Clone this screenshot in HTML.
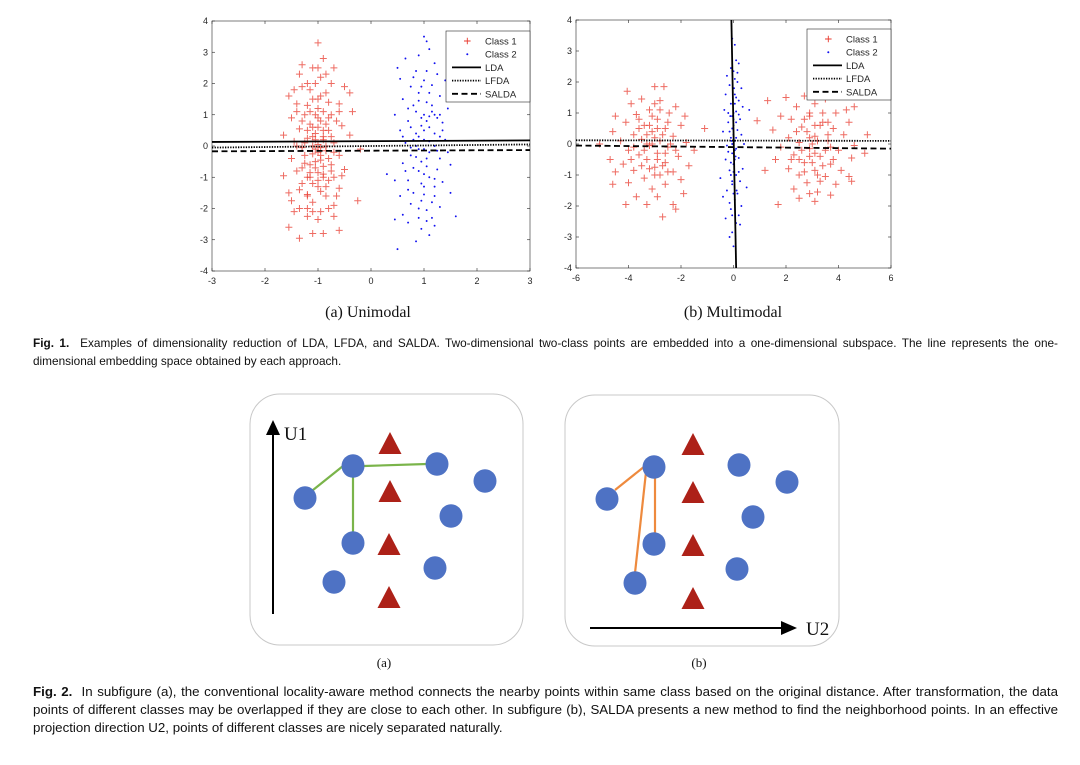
<!DOCTYPE html>
<html><head><meta charset="utf-8"><style>
body{margin:0;background:#fff;width:1080px;height:765px;overflow:hidden;position:relative;font-family:"Liberation Sans",sans-serif}
svg{position:absolute;left:0;top:0}
.cap{position:absolute;left:33px;width:1025px;color:#111;text-align:justify;text-align-last:left}
</style></head><body>
<svg id="fig" width="1080" height="765"></svg>
<div class="cap" style="top:335px;line-height:17.5px;font-size:11.8px"><b>Fig. 1.</b>&nbsp; Examples of dimensionality reduction of LDA, LFDA, and SALDA. Two-dimensional two-class points are embedded into a one-dimensional subspace. The line represents the one-dimensional embedding space obtained by each approach.</div>
<div class="cap" style="top:683px;line-height:18px;font-size:13.3px"><b>Fig. 2.</b>&nbsp; In subfigure (a), the conventional locality-aware method connects the nearby points within same class based on the original distance. After transformation, the data points of different classes may be overlapped if they are close to each other. In subfigure (b), SALDA presents a new method to find the neighborhood points. In an effective projection direction U2, points of different classes are nicely separated naturally.</div>
<script>
const p1Class1=[[-1.0,3.3],[-0.9,2.8],[-1.3,2.6],[-1.1,2.5],[-0.7,2.5],[-1.35,2.3],[-0.95,2.2],[-1.2,2.0],[-0.5,1.9],[-1.45,1.8],[-0.4,1.7],[-1.55,1.6],[-0.85,1.7],[-1.1,1.5],[-0.6,1.35],[-1.4,1.35],[-0.35,1.1],[-1.0,1.2],[-1.25,1.0],[-0.75,1.0],[-1.5,0.9],[-0.95,0.8],[-1.15,0.7],[-0.55,0.65],[-1.35,0.55],[-0.8,0.5],[-1.05,0.4],[-1.65,0.35],[-0.4,0.35],[-1.2,0.25],[-0.9,0.2],[-1.45,0.15],[-0.7,0.1],[-1.0,0.05],[-1.3,-0.05],[-0.2,-0.1],[-0.85,-0.15],[-1.1,-0.25],[-0.6,-0.3],[-1.5,-0.4],[-0.95,-0.45],[-1.25,-0.55],[-0.75,-0.6],[-1.05,-0.7],[-0.5,-0.75],[-1.4,-0.8],[-0.9,-0.9],[-1.65,-0.95],[-1.15,-1.0],[-0.55,-0.95],[-0.8,-1.1],[-1.3,-1.2],[-1.0,-1.3],[-0.6,-1.35],[-1.55,-1.5],[-1.2,-1.55],[-0.85,-1.6],[-1.5,-1.75],[-0.25,-1.75],[-1.1,-1.8],[-0.7,-1.9],[-1.35,-2.0],[-0.95,-2.1],[-1.45,-2.1],[-1.2,-2.25],[-0.7,-2.25],[-1.0,-2.35],[-1.55,-2.6],[-0.6,-2.7],[-1.1,-2.8],[-0.9,-2.8],[-1.35,-2.95],[-1.0,0.9],[-1.1,0.6],[-0.9,0.3],[-1.05,-0.1],[-0.95,-0.3],[-1.15,-0.6],[-0.85,0.7],[-1.2,1.3],[-0.8,-0.4],[-1.0,-0.85],[-1.1,0.0],[-0.9,1.1],[-1.3,0.8],[-0.7,-0.2],[-1.2,-1.6],[-0.95,1.6],[-1.05,2.0],[-0.8,1.4],[-1.25,-0.3],[-0.75,0.3],[-1.0,-1.1],[-1.15,1.8],[-0.85,-1.3],[-1.05,0.2],[-0.9,-0.65],[-1.3,1.9],[-0.75,2.0],[-1.2,-2.0],[-0.8,-2.0],[-1.4,0.0],[-0.65,0.8],[-1.35,-1.4],[-0.7,-1.0],[-1.0,0.6],[-1.1,0.3],[-0.95,-0.05],[-1.05,-0.5],[-0.9,-1.0],[-1.15,1.1],[-1.0,1.5],[-0.85,0.0],[-1.2,0.5],[-1.1,-1.2],[-0.95,-1.45],[-1.05,1.0],[-1.25,0.1],[-0.8,0.9],[-1.0,-0.2],[-0.9,0.5],[-1.15,-0.85],[-1.3,-0.7],[-0.75,-0.8],[-1.0,2.5],[-1.2,-1.0],[-0.65,-1.6],[-0.6,1.1],[-1.4,1.1],[-0.85,2.3],[-1.1,-2.1]];
const p1Class2=[[1.0,3.5],[1.05,3.35],[0.65,2.8],[0.9,2.9],[1.1,3.1],[1.2,2.65],[0.5,2.5],[0.85,2.4],[1.25,2.3],[0.55,2.15],[1.0,2.1],[1.4,2.1],[0.75,1.9],[1.15,1.95],[0.9,1.7],[1.3,1.6],[0.6,1.5],[1.05,1.4],[0.8,1.3],[1.45,1.2],[0.45,1.0],[1.2,1.0],[0.95,0.9],[0.7,0.8],[1.35,0.75],[1.1,0.6],[0.55,0.5],[0.85,0.4],[1.3,0.3],[1.0,0.2],[0.65,0.1],[1.2,0.0],[0.9,-0.1],[1.45,-0.2],[0.75,-0.3],[1.05,-0.4],[1.5,-0.6],[0.6,-0.55],[1.25,-0.75],[0.9,-0.8],[0.3,-0.9],[1.1,-1.0],[0.7,-1.1],[1.35,-1.15],[0.45,-1.1],[1.0,-1.3],[0.8,-1.5],[1.5,-1.5],[1.2,-1.6],[0.55,-1.6],[0.95,-1.75],[0.75,-1.85],[1.3,-1.95],[1.05,-2.05],[0.6,-2.2],[1.6,-2.25],[0.9,-2.3],[1.15,-2.3],[0.45,-2.35],[0.7,-2.45],[1.2,-2.55],[0.95,-2.65],[1.1,-2.85],[0.85,-3.05],[0.5,-3.3],[1.0,0.5],[0.9,0.3],[1.1,-0.2],[0.95,-0.5],[1.05,0.8],[0.85,1.1],[1.15,1.3],[0.8,-0.7],[1.0,-0.9],[1.2,0.4],[0.75,0.6],[1.1,1.7],[0.95,-1.2],[1.2,-1.3],[0.85,0.0],[1.0,1.0],[1.3,-0.4],[0.7,-1.4],[1.05,2.4],[0.9,-2.0],[1.25,0.9],[0.8,2.2],[1.15,-1.8],[0.65,-0.8],[1.35,0.5],[1.0,-0.1],[0.95,0.65],[1.1,0.15],[0.85,-0.35],[1.05,-0.65],[1.15,1.1],[0.9,1.45],[1.2,-1.05],[0.8,0.2],[1.3,1.0],[0.7,1.2],[1.0,-1.55],[1.25,-0.15],[0.75,-0.05],[1.1,0.95],[0.95,1.9],[1.4,0.2],[0.6,0.3],[1.05,-2.4]];
const p2Class1=[[-4.05,1.7],[-3.0,1.85],[-2.65,1.85],[-3.5,1.45],[-2.8,1.4],[-3.9,1.3],[-2.2,1.2],[-4.5,0.9],[-3.2,1.1],[-2.45,1.0],[-1.85,0.9],[-3.7,0.95],[-4.1,0.7],[-2.9,0.8],[-3.4,0.6],[-2.0,0.6],[-4.6,0.4],[-2.6,0.5],[-3.1,0.4],[-3.8,0.3],[-1.1,0.5],[-2.3,0.25],[-4.3,0.1],[-3.5,0.15],[-2.8,0.1],[-1.8,0.05],[-5.1,0.0],[-3.2,-0.05],[-2.5,-0.1],[-4.0,-0.2],[-1.5,-0.2],[-3.6,-0.35],[-2.9,-0.3],[-2.1,-0.4],[-4.7,-0.5],[-3.3,-0.5],[-2.6,-0.6],[-4.2,-0.65],[-1.7,-0.7],[-3.0,-0.75],[-3.8,-0.85],[-2.3,-0.9],[-4.5,-0.9],[-2.8,-1.0],[-3.4,-1.1],[-2.0,-1.15],[-4.0,-1.25],[-2.6,-1.3],[-4.6,-1.3],[-3.1,-1.45],[-1.9,-1.6],[-3.7,-1.7],[-2.9,-1.7],[-2.3,-1.95],[-4.1,-1.95],[-3.3,-1.95],[-2.7,-2.35],[-2.2,-2.1],[-3.0,0.2],[-3.2,0.6],[-2.7,0.3],[-3.4,-0.2],[-2.9,-0.5],[-3.1,0.9],[-2.5,0.7],[-3.6,0.5],[-3.3,0.0],[-2.6,-0.3],[-3.0,-1.0],[-3.5,-0.7],[-2.4,0.0],[-3.8,-0.1],[-2.8,1.1],[-3.1,0.0],[-2.9,0.5],[-3.3,0.3],[-2.7,-0.7],[-3.2,-0.8],[-3.6,0.8],[-2.2,-0.2],[-3.9,-0.5],[-3.0,1.3],[-2.5,-0.9],[1.3,1.4],[2.0,1.5],[2.7,1.55],[3.5,1.45],[4.3,1.1],[4.6,1.2],[2.4,1.2],[3.1,1.3],[3.9,1.0],[1.8,0.9],[2.2,0.8],[2.9,0.9],[4.4,0.7],[0.9,0.75],[3.4,0.7],[2.6,0.55],[3.8,0.5],[1.5,0.45],[4.2,0.3],[5.1,0.3],[2.1,0.2],[3.1,0.25],[2.5,0.05],[3.6,0.1],[4.6,-0.05],[1.8,-0.1],[2.9,-0.15],[4.0,-0.2],[5.0,-0.3],[2.3,-0.35],[3.3,-0.4],[4.5,-0.45],[1.6,-0.5],[2.7,-0.6],[3.7,-0.65],[2.1,-0.8],[3.1,-0.85],[4.1,-0.85],[1.2,-0.85],[2.5,-1.0],[3.5,-1.05],[4.4,-1.05],[2.8,-1.25],[3.9,-1.3],[4.5,-1.2],[2.3,-1.45],[3.2,-1.55],[3.7,-1.65],[2.5,-1.75],[3.1,-1.85],[1.7,-1.95],[2.9,-1.6],[3.0,0.0],[2.8,0.4],[3.3,0.6],[3.1,-0.3],[2.6,-0.2],[3.5,-0.2],[2.9,1.0],[3.2,-1.0],[2.7,-0.9],[3.6,0.3],[2.4,0.4],[3.0,-0.6],[3.4,1.0],[2.2,-0.5],[3.8,-0.5],[3.2,0.1],[2.9,-0.4],[3.4,-0.7],[2.7,0.8],[3.1,0.6],[3.7,-0.1],[2.5,-0.5],[3.3,-1.2],[2.9,0.2],[3.6,0.7]];
const p2Class2=[[-0.05,3.4],[0.05,3.2],[0.1,2.7],[-0.1,2.45],[0.2,2.6],[-0.25,2.2],[0.0,2.35],[0.15,2.0],[-0.15,1.9],[0.3,1.8],[-0.3,1.6],[0.05,1.6],[0.2,1.4],[-0.1,1.3],[0.35,1.2],[-0.35,1.1],[0.1,1.05],[0.6,1.1],[-0.05,0.9],[0.25,0.8],[-0.2,0.7],[0.0,0.6],[0.15,0.45],[-0.4,0.4],[0.3,0.3],[-0.1,0.2],[0.05,0.1],[0.4,0.0],[-0.25,-0.05],[0.1,-0.15],[-0.05,-0.3],[0.2,-0.45],[-0.3,-0.5],[0.0,-0.65],[0.35,-0.8],[-0.15,-0.85],[0.1,-1.0],[-0.5,-1.1],[0.25,-1.2],[-0.05,-1.3],[0.5,-1.4],[-0.25,-1.5],[0.15,-1.6],[-0.4,-1.7],[0.05,-1.8],[0.3,-2.0],[-0.1,-2.1],[0.2,-2.3],[-0.3,-2.4],[0.1,-2.55],[0.25,-2.6],[-0.05,-2.85],[0.0,-3.3],[-0.15,-3.0],[0.0,1.0],[-0.05,0.5],[0.05,-0.2],[0.0,-0.9],[0.1,0.7],[-0.1,-0.6],[0.05,1.3],[-0.05,-1.2],[0.0,0.3],[0.08,-0.4],[-0.08,0.1],[0.02,1.8],[0.12,-1.5],[-0.12,0.9],[-0.2,1.0],[0.2,-0.9],[-0.15,-1.9],[0.15,2.3],[0.0,0.8],[-0.05,0.0],[0.05,-0.5],[0.1,1.5],[-0.1,-1.0],[0.0,-1.6],[0.1,0.2],[-0.15,0.4],[0.2,0.95],[-0.2,-0.25],[0.05,2.1],[-0.05,-2.3]];
// projection lines: [x0,y0,x1,y1]
const p1LDA=[-3,0.13,3,0.18];
const p1LFDA=[-3,-0.05,3,0.05];
const p1SALDA=[-3,-0.17,3,-0.13];
const p2LDA=[-0.08,4,0.1,-4];
const p2LFDA=[-6,0.12,6,0.1];
const p2SALDA=[-6,-0.05,6,-0.15];
const p1XTicks=[-3,-2,-1,0,1,2,3];
const p2XTicks=[-6,-4,-2,0,2,4,6];
const yTicks=[-4,-3,-2,-1,0,1,2,3,4];
const legendLabels=["Class 1","Class 2","LDA","LFDA","SALDA"];

const NS="http://www.w3.org/2000/svg";
const svg=document.getElementById('fig');
function mk(tag,attrs,parent){const e=document.createElementNS(NS,tag);for(const k in attrs)e.setAttribute(k,attrs[k]);(parent||svg).appendChild(e);return e;}

function plot(cfg){
  const g=mk('g',{});
  
  
  const X=v=>cfg.x0+(v-cfg.xmin)/(cfg.xmax-cfg.xmin)*(cfg.x1-cfg.x0);
  const Y=v=>cfg.y1-(v-cfg.ymin)/(cfg.ymax-cfg.ymin)*(cfg.y1-cfg.y0);
  mk('rect',{x:cfg.x0,y:cfg.y0,width:cfg.x1-cfg.x0,height:cfg.y1-cfg.y0,fill:'#fff',stroke:'#262626','stroke-width':0.6},g);
  cfg.xt.forEach(t=>{
    const x=X(t);
    mk('line',{x1:x,y1:cfg.y1,x2:x,y2:cfg.y1-3,stroke:'#262626','stroke-width':0.6},g);
    mk('line',{x1:x,y1:cfg.y0,x2:x,y2:cfg.y0+3,stroke:'#262626','stroke-width':0.6},g);
    const tx=mk('text',{x:x,y:cfg.y1+13,'font-size':9,'text-anchor':'middle',fill:'#262626'},g);
    
    
    tx.textContent=t;
  });
  yTicks.forEach(t=>{
    const y=Y(t);
    mk('line',{x1:cfg.x0,y1:y,x2:cfg.x0+3,y2:y,stroke:'#262626','stroke-width':0.6},g);
    mk('line',{x1:cfg.x1,y1:y,x2:cfg.x1-3,y2:y,stroke:'#262626','stroke-width':0.6},g);
    const tx=mk('text',{x:cfg.x0-4,y:y+3,'font-size':9,'text-anchor':'end',fill:'#262626'},g);
    
    
    tx.textContent=t;
  });
  const c1=mk('g',{stroke:'#e8392e','stroke-width':1,'stroke-opacity':0.75},g);
  
  
  cfg.c1.forEach(p=>{const x=X(p[0]),y=Y(p[1]);
    mk('path',{d:`M${x-3.5},${y}h7M${x},${y-3.5}v7`},c1);});
  const c2=mk('g',{fill:'#1010f0'},g);
  
  
  cfg.c2.forEach(p=>{mk('circle',{cx:X(p[0]),cy:Y(p[1]),r:0.95},c2);});
  const line=(L,dash,w,nm)=>{const l=mk('line',{x1:X(L[0]),y1:Y(L[1]),x2:X(L[2]),y2:Y(L[3]),stroke:'#000','stroke-width':w,'stroke-dasharray':dash},g);
    
    };
  line(cfg.lda,'none',1.8,'lda-line');
  line(cfg.lfda,'1.3 1.3',1.8,'lfda-line');
  line(cfg.salda,'6 3.5',1.8,'salda-line');
  const lg=mk('g',{},g);
  
  
  const lx=cfg.lx,ly=cfg.ly;
  mk('rect',{x:lx,y:ly,width:84,height:71,fill:'#fff',stroke:'#262626','stroke-width':0.6},lg);
  legendLabels.forEach((lab,i)=>{
    const yy=ly+10+i*13.2;
    if(i===0){mk('path',{d:`M${lx+18},${yy}h6.6M${lx+21.3},${yy-3.3}v6.6`,stroke:'#e8392e','stroke-width':0.9},lg);}
    else if(i===1){mk('circle',{cx:lx+21.3,cy:yy,r:1},lg).setAttribute('fill','#1010f0');}
    else{mk('line',{x1:lx+6,y1:yy,x2:lx+35,y2:yy,stroke:'#000','stroke-width':1.8,'stroke-dasharray':i===2?'none':(i===3?'1.3 1.3':'6 3.5')},lg);}
    const t=mk('text',{x:lx+39,y:yy+3.5,'font-size':9.5,fill:'#262626'},lg);
    
    
    t.textContent=lab;
  });
}
plot({name:'unimodal-plot',x0:212,x1:530,y0:21,y1:271,xmin:-3,xmax:3,ymin:-4,ymax:4,xt:p1XTicks,c1:p1Class1,c2:p1Class2,lda:p1LDA,lfda:p1LFDA,salda:p1SALDA,lx:446,ly:31});
plot({name:'multimodal-plot',x0:576,x1:891,y0:20,y1:268,xmin:-6,xmax:6,ymin:-4,ymax:4,xt:p2XTicks,c1:p2Class1,c2:p2Class2,lda:p2LDA,lfda:p2LFDA,salda:p2SALDA,lx:807,ly:29});

function txt(x,y,s,size,name,anchor){const t=mk('text',{x:x,y:y,'font-size':size,'font-family':'"Liberation Serif",serif',fill:'#111','text-anchor':anchor||'middle'});
  
  
  t.textContent=s;return t;}
txt(368,317,'(a)  Unimodal',16,'subplot-a-title');
txt(733,317,'(b)  Multimodal',16,'subplot-b-title');

const circA=[[353,466],[437,464],[485,481],[305,498],[451,516],[353,543],[435,568],[334,582]];
const triA=[[390,443],[390,491],[389,544],[389,597]];
const circB=[[654,467],[739,465],[787,482],[607,499],[753,517],[654,544],[737,569],[635,583]];
const triB=[[693,444],[693,492],[693,545],[693,598]];
function panel(x,y,w,h,circ,tri,edges,ec,name){
  const g=mk('g',{});
  
  
  mk('rect',{x:x,y:y,width:w,height:h,rx:30,ry:30,fill:'#fff',stroke:'#c8c8c8','stroke-width':1},g);
  edges.forEach(e=>mk('line',{x1:e[0],y1:e[1],x2:e[2],y2:e[3],stroke:ec,'stroke-width':2.2},g));
  circ.forEach(c=>mk('ellipse',{cx:c[0],cy:c[1],rx:11.5,ry:11.8,fill:'#4e72c4'},g));
  tri.forEach(t=>mk('path',{d:`M${t[0]},${t[1]-11}L${t[0]+11.5},${t[1]+11}L${t[0]-11.5},${t[1]+11}Z`,fill:'#ad2118'},g));
  return g;
}
const ga=panel(250,394,273,251,circA,triA,[[313,490,343,466],[364,466,427,464],[353,477,353,532]],'#7ab44a','diagram-a');
mk('line',{x1:273,y1:614,x2:273,y2:432,stroke:'#000','stroke-width':2},ga);
mk('path',{d:'M273,420L266,435L280,435Z',fill:'#000'},ga);
txt(284,440,'U1',19,'u1-axis-label','start');
const gb=panel(565,395,274,251,circB,triB,[[645,466,615,490],[646,472,635,573],[655,477,655,533]],'#ee8a3e','diagram-b');
mk('line',{x1:590,y1:628,x2:785,y2:628,stroke:'#000','stroke-width':2},gb);
mk('path',{d:'M797,628L781,621L781,635Z',fill:'#000'},gb);
txt(806,635,'U2',19,'u2-axis-label','start');
txt(384,667,'(a)',13,'diagram-a-label');
txt(699,667,'(b)',13,'diagram-b-label');
</script>
</body></html>
